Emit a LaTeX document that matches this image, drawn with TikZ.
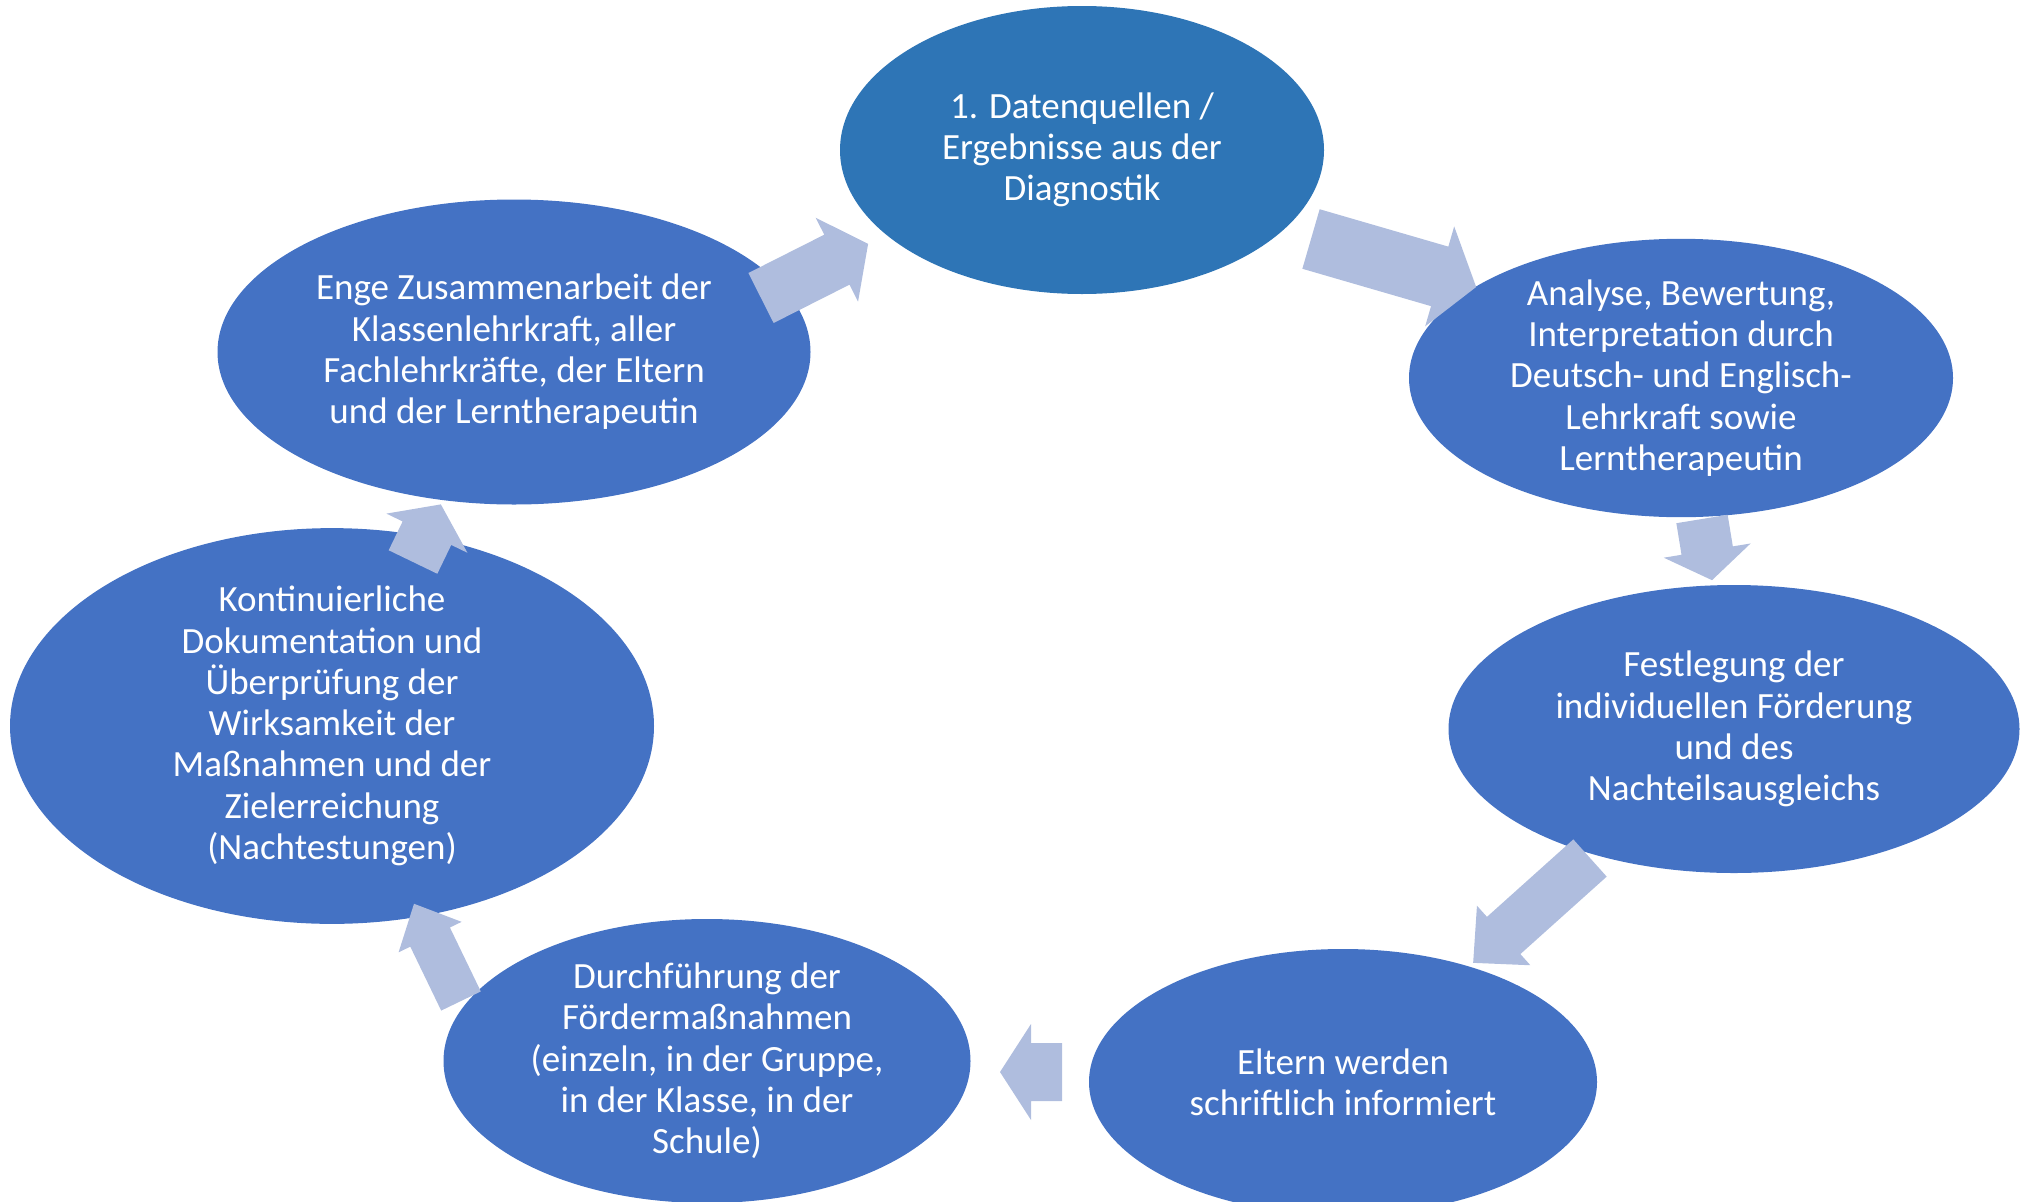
\documentclass[tikz,border=0pt]{standalone}
\usepackage{fontspec}
\setmainfont{Carlito}
\usetikzlibrary{shapes.geometric}

\definecolor{stageblue}{HTML}{4472C4}
\definecolor{startblue}{HTML}{2E75B6}
\definecolor{arrowblue}{HTML}{AFBDDE}

% block arrow: x, y (tail centre), angle, length, head length, half shaft, half head
\newcommand{\cyclearrow}[7]{%
  \fill[arrowblue, shift={(#1,#2)}, rotate=#3]
    (0,-#6) -- ({#4-#5},-#6) -- ({#4-#5},-#7) -- (#4,0)
    -- ({#4-#5},#7) -- ({#4-#5},#6) -- (0,#6) -- cycle;
}

\begin{document}
\begin{tikzpicture}[
        x=1pt, y=-1pt,
        stage/.style={ellipse, fill=stageblue, text=white, align=center,
            inner sep=0pt, font=\fontsize{37}{41.3}\selectfont}
    ]
        \useasboundingbox (0,0) rectangle (2024,1202);

        \node[stage, fill=startblue, minimum width=484, minimum height=288] (daten) at (1082,150)
            {1. Datenquellen /\\Ergebnisse aus der\\Diagnostik};
        \node[stage, minimum width=544, minimum height=272] (analyse) at (1681,378)
            {Analyse, Bewertung,\\Interpretation durch\\Deutsch- und Englisch-\\Lehrkraft sowie\\Lerntherapeutin};
        \node[stage, minimum width=571, minimum height=288] (festlegung) at (1734,729)
            {Festlegung der\\individuellen Förderung\\und des\\Nachteilsausgleichs};
        \node[stage, minimum width=508, minimum height=266] (eltern) at (1343,1082)
            {Eltern werden\\schriftlich informiert};
        \node[stage, minimum width=527, minimum height=284] (foerderung) at (707,1061)
            {Durchführung der\\Fördermaßnahmen\\(einzeln, in der Gruppe,\\in der Klasse, in der\\Schule)};
        \node[stage, minimum width=644, minimum height=337] (doku) at (332,726)
            {Kontinuierliche\\Dokumentation und\\Überprüfung der\\Wirksamkeit der\\Maßnahmen und der\\Zielerreichung\\(Nachtestungen)};
        \node[stage, minimum width=593, minimum height=305] (team) at (514,352)
            {Enge Zusammenarbeit der\\Klassenlehrkraft, aller\\Fachlehrkräfte, der Eltern\\und der Lerntherapeutin};

        \cyclearrow{761}{298}{26.8}{120}{35}{28}{47}
        \cyclearrow{1311}{239}{-16.2}{172}{38}{31}{52}
        \cyclearrow{1702}{519}{-80.7}{62}{30}{26}{44}
        \cyclearrow{1590}{858}{-138.1}{157}{41}{25}{40}
        \cyclearrow{1062}{1072}{180}{62}{31}{29}{48}
        \cyclearrow{461}{1001}{115.8}{108}{37}{22}{35}
        \cyclearrow{413}{562}{64.2}{64}{32}{27}{45}
    \end{tikzpicture}
\end{document}
